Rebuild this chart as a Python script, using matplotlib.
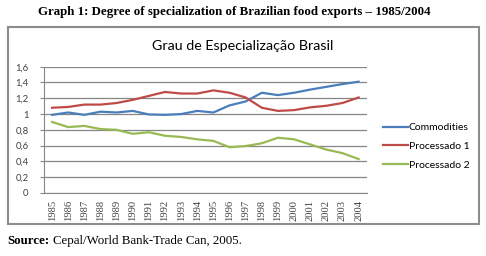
import matplotlib
matplotlib.use("Agg")
import matplotlib.pyplot as plt
from matplotlib.patches import Rectangle
from matplotlib.ticker import FuncFormatter

# Data
years = [str(y) for y in range(1985, 2005)]
commodities = [0.99, 1.02, 0.99, 1.03, 1.02, 1.04, 0.995, 0.99, 1.00, 1.04,
               1.02, 1.11, 1.16, 1.27, 1.24, 1.27, 1.31, 1.345, 1.38, 1.41]
processado1 = [1.08, 1.09, 1.12, 1.12, 1.14, 1.18, 1.23, 1.28, 1.26, 1.26,
               1.30, 1.27, 1.21, 1.08, 1.04, 1.05, 1.085, 1.105, 1.14, 1.21]
processado2 = [0.90, 0.835, 0.85, 0.81, 0.80, 0.75, 0.77, 0.725, 0.71, 0.68,
               0.66, 0.58, 0.595, 0.63, 0.70, 0.68, 0.615, 0.55, 0.505, 0.43]
y_ticks = [0, 0.2, 0.4, 0.6, 0.8, 1.0, 1.2, 1.4, 1.6]

series = [
    ("Commodities", commodities, "#4a7ebb"),
    ("Processado 1", processado1, "#be4b48"),
    ("Processado 2", processado2, "#98b954"),
]

W, H = 486, 256
fig = plt.figure(figsize=(W / 100, H / 100), dpi=100)

# outer frame around the chart
frame = Rectangle((8 / W, 1 - 224 / H), 471 / W, 197 / H,
                  transform=fig.transFigure, fill=False,
                  edgecolor="#8c8c8c", linewidth=1.5)
fig.patches.append(frame)

fig.text(234 / W, 1 - 12 / H,
         "Graph 1: Degree of specialization of Brazilian food exports \u2013 1985/2004",
         ha="center", va="center", fontsize=9.3, fontweight="bold",
         family="Liberation Serif")

src = fig.text(7 / W, 1 - 241 / H, "Source:", ha="left", va="center",
               fontsize=9.3, fontweight="bold", family="Liberation Serif")
fig.canvas.draw()
bb = src.get_window_extent()
fig.text((bb.x1 + 3.5) / W, 1 - 241 / H, "Cepal/World Bank-Trade Can, 2005.",
         ha="left", va="center", fontsize=9.3, family="Liberation Serif")

fig.text(243 / W, 1 - 46 / H, "Grau de Especializa\u00e7\u00e3o Brasil",
         ha="center", va="center", fontsize=10.3, family="Lato")

ax = fig.add_axes([44 / W, 1 - 193 / H, 322.7 / W, 126.3 / H])
x = list(range(len(years)))
for name, vals, color in series:
    ax.plot(x, vals, color=color, linewidth=1.6, label=name)

ax.set_xlim(-0.5, len(years) - 0.5)
ax.set_ylim(0, 1.6)
ax.set_yticks(y_ticks)
ax.yaxis.set_major_formatter(
    FuncFormatter(lambda v, p: ("%g" % round(v, 1)).replace(".", ",")))
ax.set_xticks(x)
ax.set_xticklabels(years, rotation=90, fontsize=7.6, family="Liberation Serif",
                   color="#404040")
for lab in ax.get_yticklabels():
    lab.set_fontsize(6.8)
    lab.set_family("Lato")
    lab.set_color("#404040")

ax.grid(axis="y", color="#868686", linewidth=0.9)
ax.set_axisbelow(True)
for side in ["top", "right"]:
    ax.spines[side].set_visible(False)
ax.spines["left"].set_color("#868686")
ax.spines["bottom"].set_color("#868686")
ax.tick_params(axis="y", length=3, color="#868686", pad=8)
ax.tick_params(axis="x", length=0, pad=5)

ax.legend(loc="center left", bbox_to_anchor=((383 - 44) / 322.7, 0.37),
          frameon=False, borderaxespad=0, borderpad=0,
          prop={"family": "Lato", "size": 7.5}, handlelength=2.4,
          handletextpad=0.05, labelspacing=0.9)

fig.savefig("out.png", dpi=100)
